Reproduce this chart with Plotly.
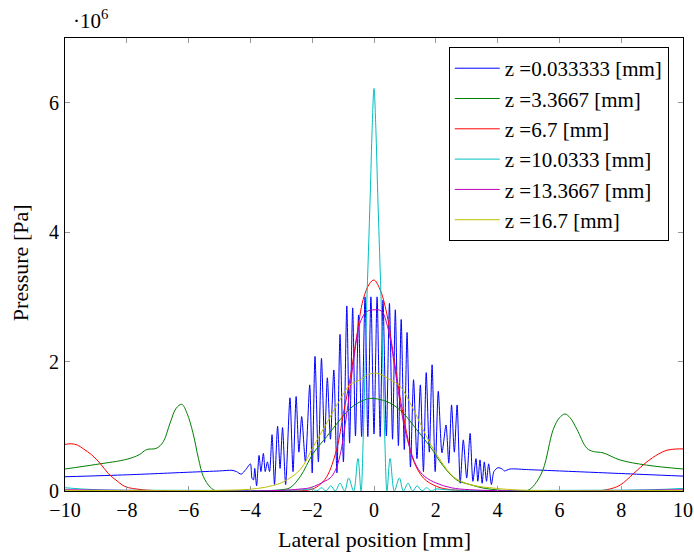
import plotly.graph_objects as go

# Values in units of 1e6 Pa, x in mm
blue_x = [-10, -8, -6, -5, -4.6, -4.45, -4.3, -4.15, -4.0, -3.95, -3.9, -3.86, -3.8, -3.72, -3.66,
          -3.58, -3.52, -3.45, -3.38, -3.3, -3.22, -3.12, -3.04, -2.96, -2.86, -2.72, -2.62, -2.52,
          -2.43, -2.34, -2.22, -2.08, -2.0, -1.91, -1.8, -1.7, -1.6, -1.51, -1.41, -1.3, -1.2, -1.1,
          -0.99, -0.88, -0.79, -0.69, -0.6, -0.5, -0.4, -0.29, -0.2, -0.1, 0.0, 0.1, 0.2, 0.29, 0.4,
          0.5, 0.6, 0.69, 0.79, 0.88, 0.98, 1.07, 1.18, 1.28, 1.39, 1.5, 1.6, 1.69, 1.79, 1.88, 1.98,
          2.08, 2.2, 2.33, 2.42, 2.51, 2.6, 2.69, 2.79, 2.89, 3.0, 3.11, 3.2, 3.3, 3.36, 3.43, 3.5,
          3.57, 3.64, 3.71, 3.8, 3.88, 4.01, 4.15, 4.22, 4.4, 5.0, 6.0, 8.0, 10.0]
blue_y = [0.22, 0.25, 0.29, 0.31, 0.32, 0.30, 0.26, 0.33, 0.42, 0.20, 0.17, 0.35, 0.08, 0.55, 0.30,
          0.58, 0.30, 0.45, 0.30, 0.87, 0.10, 1.00, 0.35, 0.98, 0.10, 1.44, 0.30, 1.46,
          0.60, 1.15, 0.45, 1.64, 0.28, 2.08, 0.45, 2.05, 0.75, 1.75, 0.80, 1.87, 0.28, 2.42,
          0.45, 2.86, 0.74, 2.83, 0.85, 2.72, 0.84, 3.00, 0.84, 3.00, 0.88, 3.00, 0.84, 2.95, 0.85,
          2.90, 0.80, 2.80, 0.70, 2.65, 0.64, 2.45, 0.37, 1.72, 0.50, 1.64, 0.30, 1.83, 0.60, 1.95, 0.30,
          1.54, 0.59, 1.02, 0.43, 1.33, 0.60, 1.33, 0.12, 0.79, 0.20, 0.89, 0.15, 0.50, 0.15, 0.48, 0.12,
          0.45, 0.15, 0.42, 0.10, 0.30, 0.36, 0.34, 0.31, 0.34, 0.33, 0.31, 0.27, 0.23]

green_x = [-10, -9, -8, -7.6, -7.36, -7.04, -6.82, -6.6, -6.4, -6.22, -6.05, -5.86, -5.68, -5.52,
           -5.3, -5.1, -4.0, -3.0, -2.72, -2.39, -1.97, -1.53, -1.1, -0.68, -0.24, 0.0, 0.52, 0.95,
           1.38, 1.81, 2.25, 2.68, 3.1, 3.6, 4.5, 4.98, 5.2, 5.47, 5.8, 6.0, 6.18, 6.35, 6.57, 6.89,
           7.1, 7.41, 7.96, 8.82, 10]
green_y = [0.34, 0.41, 0.49, 0.56, 0.64, 0.66, 0.76, 1.05, 1.28, 1.34, 1.20, 0.90, 0.50, 0.22,
           0.06, 0.0, 0.0, 0.02, 0.05, 0.22, 0.58, 0.84, 1.10, 1.31, 1.42, 1.43, 1.36, 1.20,
           0.95, 0.69, 0.38, 0.17, 0.10, 0.04, 0.0, 0.01, 0.10, 0.33, 0.95, 1.13, 1.19, 1.13, 0.95, 0.66,
           0.61, 0.59, 0.48, 0.40, 0.34]

red_x = [-10, -9.8, -9.6, -9.4, -9.14, -8.85, -8.6, -8.3, -8.06, -7.5, -6, -3, -2.07, -1.8, -1.53,
         -1.21, -0.99, -0.78, -0.56, -0.35, -0.15, 0.0, 0.19, 0.41, 0.62, 0.84, 1.06, 1.27, 1.6, 2.03,
         2.5, 4, 7, 7.53, 7.96, 8.4, 8.83, 9.2, 9.48, 9.8, 10]
red_y = [0.72, 0.73, 0.71, 0.65, 0.56, 0.42, 0.27, 0.15, 0.07, 0.02, 0.0, 0.0, 0.02, 0.08, 0.22,
         0.64, 1.20, 1.72, 2.39, 2.96, 3.20, 3.26, 3.12, 2.75, 2.13, 1.46, 0.89, 0.48, 0.20, 0.07,
         0.02, 0.0, 0.0, 0.02, 0.09, 0.27, 0.45, 0.57, 0.63, 0.65, 0.65]

cyan_x = [-10, -9, -6, -3, -2.3, -2.0, -1.85, -1.7, -1.55, -1.4, -1.25, -1.1, -0.95, -0.82, -0.66,
          -0.52, -0.42, -0.35, -0.3, -0.24, -0.18, -0.12, -0.06, 0.0, 0.06, 0.12, 0.18, 0.24, 0.3,
          0.35, 0.42, 0.52, 0.66, 0.82, 0.95, 1.1, 1.25, 1.4, 1.55, 1.7, 1.85, 2.0, 2.3, 3, 6, 9, 10]
cyan_y = [0.05, 0.02, 0.01, 0.01, 0.02, 0.03, 0.0, 0.05, 0.0, 0.08, 0.0, 0.12, 0.0, 0.20, 0.0,
          0.50, 0.0, 0.80, 1.70, 2.80, 3.70, 4.60, 5.60, 6.22, 5.60, 4.60, 3.70, 2.80, 1.70,
          0.80, 0.0, 0.50, 0.0, 0.20, 0.0, 0.12, 0.0, 0.08, 0.0, 0.05, 0.0, 0.03, 0.02, 0.01, 0.01, 0.02, 0.04]

magenta_x = [-10, -5, -3, -2.4, -2.07, -1.8, -1.6, -1.42, -1.25, -1.1, -0.88, -0.67, -0.45, -0.24,
             0.0, 0.24, 0.46, 0.68, 0.9, 1.11, 1.38, 1.65, 2.03, 2.5, 3.1, 5, 10]
magenta_y = [0.02, 0.0, 0.01, 0.03, 0.05, 0.10, 0.15, 0.20, 0.32, 0.55, 1.20, 1.98, 2.60, 2.77,
             2.80, 2.78, 2.50, 1.88, 1.20, 0.74, 0.38, 0.22, 0.12, 0.05, 0.02, 0.0, 0.02]

yellow_x = [-10, -5, -3.96, -3.4, -2.94, -2.39, -1.96, -1.53, -1.1, -0.78, -0.45, -0.18, 0.09, 0.52,
            0.84, 1.17, 1.49, 1.81, 2.14, 2.57, 3.1, 3.97, 5, 10]
yellow_y = [0.01, 0.01, 0.03, 0.07, 0.14, 0.33, 0.69, 1.05, 1.41, 1.64, 1.72, 1.80, 1.82, 1.72,
            1.62, 1.36, 1.05, 0.74, 0.48, 0.22, 0.10, 0.04, 0.01, 0.01]

labels = ["z =0.033333 [mm]", "z =3.3667 [mm]", "z =6.7 [mm]", "z =10.0333 [mm]",
          "z =13.3667 [mm]", "z =16.7 [mm]"]
colors = ["#0000ff", "#008000", "#ff0000", "#00bfbf", "#bf00bf", "#bfbf00"]
series = [(blue_x, blue_y), (green_x, green_y), (red_x, red_y), (cyan_x, cyan_y),
          (magenta_x, magenta_y), (yellow_x, yellow_y)]

FONT = "Liberation Serif"
FS = 22
TFS = 20
fig = go.Figure()
for i, ((xs, ys), lab, col) in enumerate(zip(series, labels, colors)):
    fig.add_trace(go.Scatter(
        x=xs, y=[v * 1e6 for v in ys], mode="lines", name=lab,
        line=dict(color=col, width=1, shape="spline", smoothing=0.7 if i == 0 else 1.0),
        legendgroup=f"g{i}",
    ))

axis_common = dict(showline=True, linecolor="black", linewidth=1, mirror="allticks",
                   ticks="inside", tickcolor="#999999", ticklen=5, tickwidth=1,
                   showgrid=False, zeroline=False, automargin=False,
                   tickfont=dict(family=FONT, size=TFS, color="black"))
fig.update_xaxes(range=[-10, 10], tickvals=list(range(-10, 11, 2)), ticklabelstandoff=1,
                 **axis_common)
fig.update_yaxes(range=[0, 7e6], tickvals=[0, 2e6, 4e6, 6e6], ticktext=["0", "2", "4", "6"],
                 ticklabelstandoff=1, **axis_common)

fig.add_annotation(xref="paper", yref="paper", x=0.5, y=-0.108, xanchor="center", yanchor="middle",
                   showarrow=False, text="Lateral position [mm]",
                   font=dict(family=FONT, size=FS, color="black"))
fig.add_annotation(xref="paper", yref="paper", x=-0.0728, y=0.503, xanchor="center", yanchor="middle",
                   showarrow=False, text="Pressure [Pa]", textangle=-90,
                   font=dict(family=FONT, size=FS, color="black"))
fig.add_annotation(xref="paper", yref="paper", x=0.0, y=1.0, xanchor="left", yanchor="bottom",
                   xshift=6, yshift=3, showarrow=False,
                   text="·10<sup>6</sup>", font=dict(family=FONT, size=TFS + 1, color="black"))

fig.update_layout(
    width=694, height=557,
    margin=dict(l=65, r=11, t=38, b=66),
    plot_bgcolor="white", paper_bgcolor="white",
    legend=dict(x=0.977, y=0.98, xanchor="right", yanchor="top",
                bordercolor="black", borderwidth=1, bgcolor="white",
                font=dict(family=FONT, size=21, color="black"),
                tracegroupgap=0, itemwidth=45),
    showlegend=True,
)

fig.write_html("out.html")
